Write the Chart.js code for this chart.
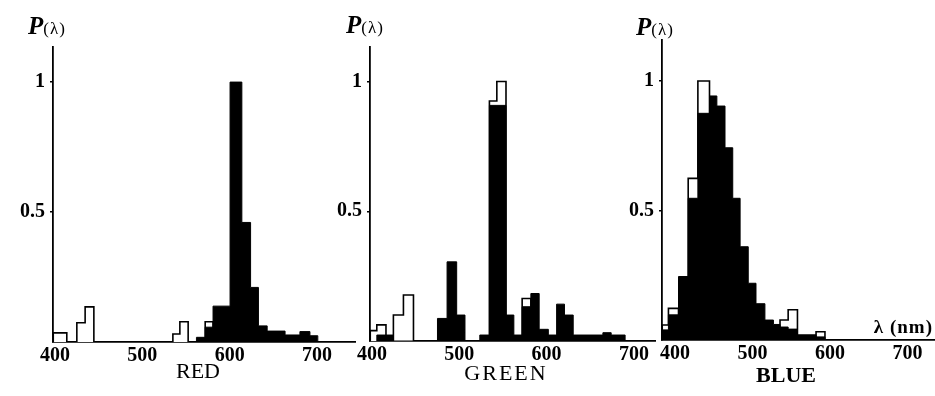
<!DOCTYPE html>
<html>
<head>
<meta charset="utf-8">
<script src="https://cdn.jsdelivr.net/npm/chart.js@4.4.1/dist/chart.umd.min.js"></script>
<style>
    html, body { margin: 0; padding: 0; background: #fff; }
    #wrap { position: relative; width: 935px; height: 396px; overflow: hidden; }
    #wrap canvas { position: absolute; left: 0; top: 0; }
    .lbl { position: absolute; font-family: 'Liberation Serif', serif; color: #000; white-space: nowrap; line-height: 1; }
    .p { font-size: 25px; font-style: italic; font-weight: bold; }
    .p span { font-size: 17px; font-style: normal; font-weight: normal; letter-spacing: 1px; }
    .cap { font-size: 22px; transform: translateX(-50%); }
</style>
</head>
<body>
<div id="wrap">
    <canvas id="chart-red" width="935" height="396"></canvas>
    <canvas id="chart-green" width="935" height="396"></canvas>
    <canvas id="chart-blue" width="935" height="396"></canvas>

    <div class="lbl p" style="left:28px; top:13px;">P<span>(λ)</span></div>
    <div class="lbl p" style="left:346px; top:12px;">P<span>(λ)</span></div>
    <div class="lbl p" style="left:636px; top:14px;">P<span>(λ)</span></div>

    <div class="lbl cap" style="left:198px; top:360px;">RED</div>
    <div class="lbl cap" style="left:506px; top:362px; letter-spacing:2px;">GREEN</div>
    <div class="lbl cap" style="left:786px; top:364px; font-weight:bold;">BLUE</div>

    <div class="lbl" style="right:2px; top:317px; font-size:19px; font-weight:bold; letter-spacing:1px;">λ (nm)</div>
</div>

<script>
// tick labels
const xTicks = [400, 500, 600, 700];
const yTicks = [0.5, 1];

// RED: bin edges (nm) and P(λ) of each bin
const redBlackEdges = [562, 572, 581, 600.5, 614, 624, 633, 643, 663.5, 680.5, 692, 701];
const redBlackVals = [0.018, 0.057, 0.138, 1.0, 0.46, 0.21, 0.062, 0.042, 0.027, 0.04, 0.024];
const redWhiteEdges = [398, 413.5, 425, 434.5, 444.5, 535, 543, 552.5, 572, 581];
const redWhiteVals = [0.035, 0, 0.074, 0.135, 0, 0.031, 0.078, 0, 0.078];

// GREEN
const greenBlackEdges = [405.5, 424.5, 475, 486, 497, 506.5, 523.5, 534.5, 553.5, 562.5, 572, 582, 591.5, 602, 611.5, 620.5, 630.5, 664.5, 674, 690];
const greenBlackVals = [0.023, 0, 0.087, 0.305, 0.10, 0, 0.023, 0.908, 0.10, 0.023, 0.132, 0.183, 0.045, 0.023, 0.142, 0.10, 0.023, 0.032, 0.023];
const greenWhiteEdges = [398, 405.5, 416, 424.5, 436, 447.5, 534.5, 543, 553.5, 572, 582];
const greenWhiteVals = [0.04, 0.062, 0, 0.10, 0.177, 0, 0.925, 1.0, 0, 0.164];

// BLUE
const blueBlackEdges = [383.5, 391.5, 404.5, 417, 429.5, 444.5, 454, 464.5, 474.5, 484, 494.5, 504.5, 516, 527, 535.5, 546, 558, 582, 593.5];
const blueBlackVals = [0.039, 0.097, 0.245, 0.547, 0.875, 0.942, 0.903, 0.742, 0.547, 0.36, 0.219, 0.14, 0.077, 0.06, 0.05, 0.042, 0.02, 0.012];
const blueWhiteEdges = [383.5, 391.5, 404.5, 417, 429.5, 444.5, 535.5, 546, 558, 582, 593.5];
const blueWhiteVals = [0.058, 0.122, 0, 0.624, 1.0, 0, 0.077, 0.117, 0, 0.032];

const Y_W = 40;
const X_H = 50;
const serif = 'Liberation Serif';

// histogram outline as stepped points
function stepPoints(edges, vals) {
    const pts = [{ x: edges[0], y: 0 }];
    vals.forEach((v, i) => pts.push({ x: edges[i], y: v }));
    pts.push({ x: edges[edges.length - 1], y: 0 });
    return pts;
}

function makeChart(id, p) {
    new Chart(document.getElementById(id), {
        type: 'line',
        data: {
            datasets: [
                {
                    data: stepPoints(p.blackEdges, p.blackVals),
                    stepped: true,
                    fill: 'origin',
                    backgroundColor: '#000',
                    borderColor: '#000',
                    borderWidth: 1,
                },
                {
                    data: stepPoints(p.whiteEdges, p.whiteVals),
                    stepped: true,
                    fill: 'origin',
                    backgroundColor: '#fff',
                    borderColor: '#000',
                    borderWidth: 1.6,
                },
            ],
        },
        options: {
            responsive: false,
            animation: false,
            events: [],
            layout: {
                padding: {
                    left: p.left - Y_W,
                    right: 935 - p.right,
                    top: p.top,
                    bottom: 396 - p.bottom - X_H,
                },
            },
            plugins: { legend: { display: false }, tooltip: { enabled: false } },
            elements: { point: { radius: 0 }, line: { tension: 0 } },
            scales: {
                x: {
                    type: 'linear',
                    min: p.xMin,
                    max: p.xMax,
                    afterFit: (s) => { s.height = X_H; },
                    afterBuildTicks: (s) => { s.ticks = xTicks.map((v) => ({ value: v })); },
                    grid: { display: false },
                    border: { color: '#000', width: 1.8 },
                    ticks: {
                        color: '#000',
                        padding: -6,
                        autoSkip: false,
                        maxRotation: 0,
                        font: { family: serif, size: 20, weight: 'bold' },
                    },
                },
                y: {
                    type: 'linear',
                    min: 0,
                    max: p.yMax,
                    afterFit: (s) => { s.width = Y_W; },
                    afterBuildTicks: (s) => { s.ticks = yTicks.map((v) => ({ value: v })); },
                    grid: { display: true, drawOnChartArea: false, drawTicks: true, tickLength: 3, color: '#000', lineWidth: 1.5 },
                    border: { color: '#000', width: 1.8 },
                    ticks: {
                        color: '#000',
                        padding: 5,
                        callback: (v) => (v === 1 ? '1' : '0.5'),
                        font: { family: serif, size: 20, weight: 'bold' },
                    },
                },
            },
        },
    });
}

makeChart('chart-red', {
    blackEdges: redBlackEdges, blackVals: redBlackVals,
    whiteEdges: redWhiteEdges, whiteVals: redWhiteVals,
    left: 53, right: 355, top: 47, bottom: 342,
    xMin: 397.7, xMax: 743.6, yMax: 1.135,
});

makeChart('chart-green', {
    blackEdges: greenBlackEdges, blackVals: greenBlackVals,
    whiteEdges: greenWhiteEdges, whiteVals: greenWhiteVals,
    left: 370, right: 655, top: 47, bottom: 341,
    xMin: 397.7, xMax: 724.2, yMax: 1.133,
});

makeChart('chart-blue', {
    blackEdges: blueBlackEdges, blackVals: blueBlackVals,
    whiteEdges: blueWhiteEdges, whiteVals: blueWhiteVals,
    left: 662, right: 935, top: 40, bottom: 340,
    xMin: 383.2, xMax: 735.5, yMax: 1.158,
});
</script>
</body>
</html>
